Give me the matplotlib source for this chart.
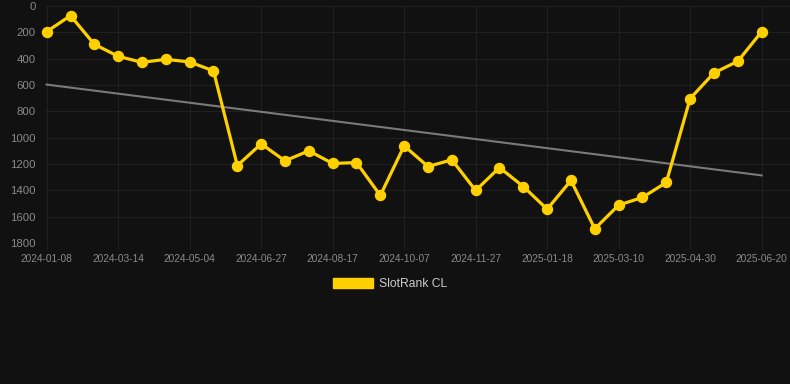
import numpy as np
import matplotlib
matplotlib.use("Agg")
from matplotlib import pyplot as plt
from matplotlib.patches import Patch

# rank values (lower is better, y axis inverted)
ranks = [195, 73, 291, 382, 428, 405, 425, 493, 1212, 1047, 1176, 1100, 1196, 1189, 1439,
         1062, 1219, 1168, 1401, 1227, 1371, 1543, 1325, 1692, 1512, 1454, 1340, 703, 508, 420, 195]
tick_labels = ["2024-01-08", "2024-03-14", "2024-05-04", "2024-06-27", "2024-08-17", "2024-10-07",
               "2024-11-27", "2025-01-18", "2025-03-10", "2025-04-30", "2025-06-20"]
series_name = "SlotRank CL"

bg = "#111111"
grid_col = "#202020"
text_col = "#8a8a8a"
yellow = "#ffd000"

plt.rcParams['font.family'] = ['Liberation Sans', 'DejaVu Sans']

fig = plt.figure(figsize=(7.9, 3.84), dpi=100, facecolor=bg)
W, H = 790, 384
ax = fig.add_axes([45 / W, 1 - 243 / H, (790 - 45) / W, (243 - 6) / H])
ax.set_facecolor(bg)

x = np.arange(len(ranks))

# linear trend line
coef = np.polyfit(x, ranks, 1)
ax.plot(x, np.polyval(coef, x), color="#7a7a7a", lw=1.5, zorder=2)

ax.plot(x, ranks, color=yellow, lw=2.3, marker="o", markersize=7.2,
        markerfacecolor=yellow, markeredgecolor=yellow, zorder=3, clip_on=False)

ax.set_ylim(1800, 0)
ax.set_yticks(np.arange(0, 1801, 200))
ax.set_xlim(-0.07, 31.19)
ax.set_xticks(x[::3])
ax.set_xticklabels(tick_labels)

ax.grid(True, color=grid_col, lw=0.75)
ax.set_axisbelow(True)
for s in ax.spines.values():
    s.set_visible(False)

ax.tick_params(axis="x", colors=grid_col, length=4, width=0.75, pad=4,
               labelcolor=text_col, labelsize=7.3)
ax.tick_params(axis="y", length=0, pad=6.5, labelcolor=text_col, labelsize=8.2)

fig.legend(handles=[Patch(facecolor=yellow, edgecolor=yellow)], labels=[series_name],
           loc="center", bbox_to_anchor=(390 / W, 1 - 284 / H), frameon=False,
           handlelength=3.3, handleheight=0.9, handletextpad=0.5,
           fontsize=8.7, labelcolor="#cccccc")

fig.savefig("out.png", dpi=100, facecolor=bg)
